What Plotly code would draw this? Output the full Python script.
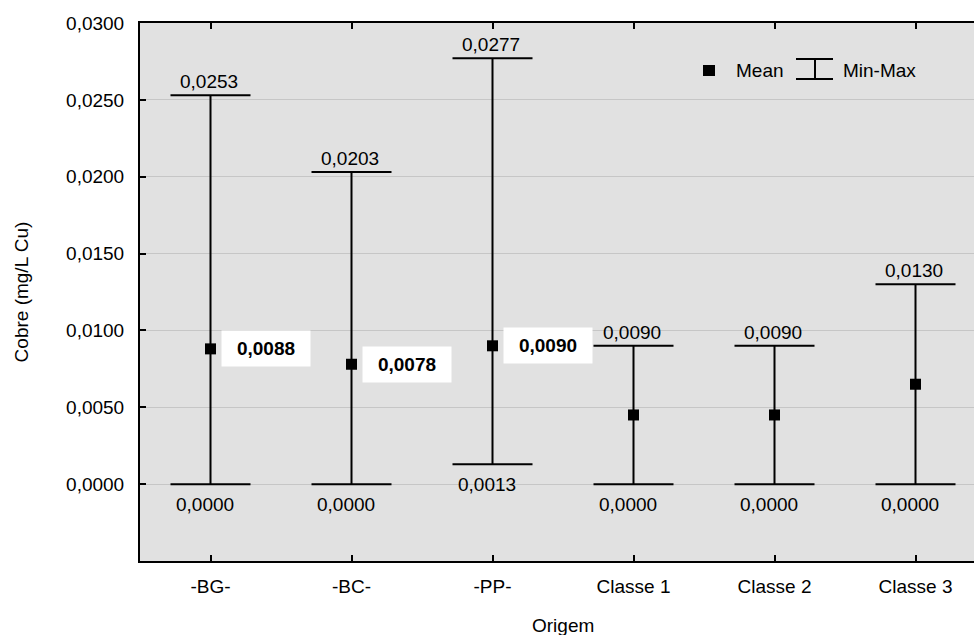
import plotly.graph_objects as go

# Copper concentration by origin: mean with min-max range
categories = ["-BG-", "-BC-", "-PP-", "Classe 1", "Classe 2", "Classe 3"]
mean_vals = [0.0088, 0.0078, 0.0090, 0.0045, 0.0045, 0.0065]
min_vals = [0.0000, 0.0000, 0.0013, 0.0000, 0.0000, 0.0000]
max_vals = [0.0253, 0.0203, 0.0277, 0.0090, 0.0090, 0.0130]
mean_labelled = [True, True, True, False, False, False]

y_tickvals = [0.0, 0.005, 0.010, 0.015, 0.020, 0.025, 0.030]
y_ticktext = ["0,0000", "0,0050", "0,0100", "0,0150", "0,0200", "0,0250", "0,0300"]

FONT = "Liberation Sans, Arial, sans-serif"
FS = 19
W, H = 974, 635
ML, MT, MB, MR = 140, 23, 74, 0


def fmt(v):
    return f"{v:.4f}".replace(".", ",")


xs = list(range(len(categories)))

fig = go.Figure()
fig.add_trace(go.Scatter(
    x=xs,
    y=mean_vals,
    mode="markers",
    marker=dict(symbol="square", size=11, color="black"),
    error_y=dict(
        type="data",
        symmetric=False,
        array=[mx - m for mx, m in zip(max_vals, mean_vals)],
        arrayminus=[m - mn for m, mn in zip(mean_vals, min_vals)],
        color="black",
        thickness=2,
        width=40,
    ),
    showlegend=False,
    hoverinfo="skip",
))

annotations = []
for i in xs:
    annotations.append(dict(
        x=i, y=max_vals[i], xref="x", yref="y", text=fmt(max_vals[i]),
        showarrow=False, yanchor="bottom", xanchor="center", yshift=1, xshift=-2,
        font=dict(family=FONT, size=FS, color="black"),
    ))
    annotations.append(dict(
        x=i, y=min_vals[i], xref="x", yref="y", text=fmt(min_vals[i]),
        showarrow=False, yanchor="top", xanchor="center", yshift=-8, xshift=-6,
        font=dict(family=FONT, size=FS, color="black"),
    ))
    if mean_labelled[i]:
        annotations.append(dict(
            x=i, y=mean_vals[i], xref="x", yref="y", text="<b>" + fmt(mean_vals[i]) + "</b>",
            showarrow=False, yanchor="middle", xanchor="left", xshift=10,
            bgcolor="white", width=84, height=31, borderpad=2,
            font=dict(family=FONT, size=FS, color="black"),
        ))

# x-axis title centred under the category band
annotations.append(dict(
    x=2.5, y=-0.12, xref="x", yref="paper", text="Origem", showarrow=False,
    yanchor="middle", font=dict(family=FONT, size=FS, color="black"),
))

# custom legend (Mean square, Min-Max I-beam)
pw = W - ML - MR
ph = H - MT - MB


def px(xp):
    return (xp - ML) / pw


def py(yp):
    return 1 - (yp - MT) / ph


shapes = [
    dict(type="rect", xref="paper", yref="paper",
         x0=px(703), x1=px(715), y0=py(76), y1=py(65),
         fillcolor="black", line=dict(width=0)),
    dict(type="line", xref="paper", yref="paper",
         x0=px(796), x1=px(833), y0=py(59), y1=py(59), line=dict(color="black", width=2)),
    dict(type="line", xref="paper", yref="paper",
         x0=px(796), x1=px(833), y0=py(79), y1=py(79), line=dict(color="black", width=2)),
    dict(type="line", xref="paper", yref="paper",
         x0=px(815), x1=px(815), y0=py(59), y1=py(79), line=dict(color="black", width=2)),
]
annotations.append(dict(
    x=px(734), y=py(71), xref="paper", yref="paper", text="Mean", showarrow=False,
    xanchor="left", yanchor="middle", font=dict(family=FONT, size=FS, color="black"),
))
annotations.append(dict(
    x=px(841), y=py(71), xref="paper", yref="paper", text="Min-Max", showarrow=False,
    xanchor="left", yanchor="middle", font=dict(family=FONT, size=FS, color="black"),
))

fig.update_layout(
    width=W, height=H,
    margin=dict(l=ML, r=MR, t=MT, b=MB, pad=0),
    paper_bgcolor="white",
    plot_bgcolor="#e1e1e1",
    font=dict(family=FONT, size=FS, color="black"),
    annotations=annotations,
    shapes=shapes,
    xaxis=dict(
        range=[-0.5, -0.5 + pw / 141.0],
        tickmode="array", tickvals=xs, ticktext=categories,
        showgrid=False, zeroline=False,
        showline=True, linecolor="black", linewidth=2, mirror="ticks",
        ticks="inside", ticklen=6, tickwidth=2, tickcolor="black",
        ticklabelstandoff=7,
        tickfont=dict(family=FONT, size=FS, color="black"),
    ),
    yaxis=dict(
        range=[-0.005, 0.030],
        tickmode="array", tickvals=y_tickvals, ticktext=y_ticktext,
        showgrid=True, gridcolor="#c6c6c6", gridwidth=1, zeroline=False,
        showline=True, linecolor="black", linewidth=2, mirror=False,
        ticks="inside", ticklen=6, tickwidth=2, tickcolor="black",
        ticklabelstandoff=10,
        tickfont=dict(family=FONT, size=FS, color="black"),
        title=dict(text="Cobre (mg/L Cu)", standoff=32,
                   font=dict(family=FONT, size=FS, color="black")),
    ),
)

fig.write_html("out.html")
